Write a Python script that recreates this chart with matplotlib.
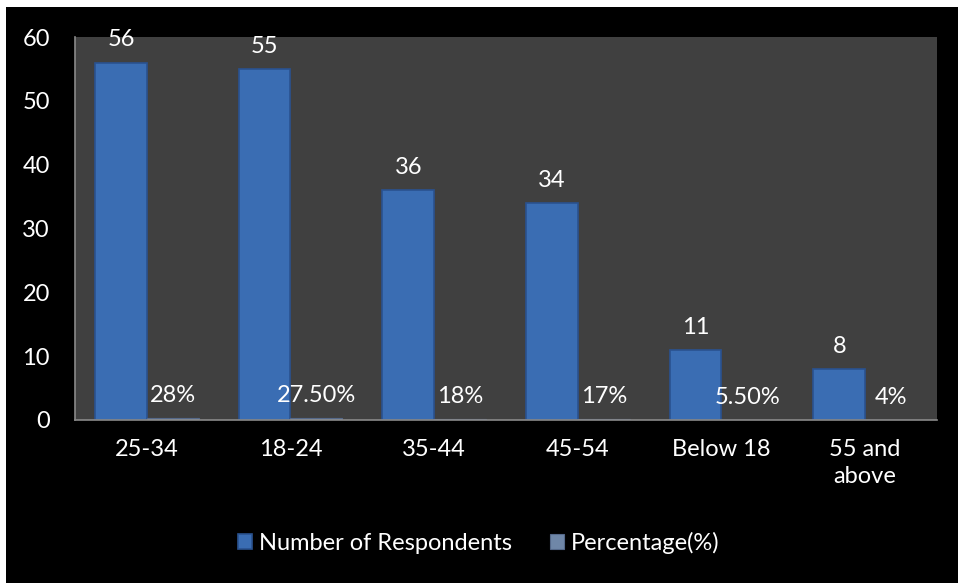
import numpy as np
import matplotlib.pyplot as plt
from matplotlib.patches import Rectangle

# age groups and survey counts
categories = ['25-34', '18-24', '35-44', '45-54', 'Below 18', '55 and\nabove']
respondents = [56, 55, 36, 34, 11, 8]
percentage = [0.28, 0.275, 0.18, 0.17, 0.055, 0.04]
pct_labels = ['28%', '27.50%', '18%', '17%', '5.50%', '4%']

plt.rcParams['font.family'] = ['Lato', 'DejaVu Sans']
fs = 17

fig = plt.figure(figsize=(9.58, 5.83), dpi=100, facecolor='black')
# thin white strips along the top and left edges
fig.patches.append(Rectangle((0, 1 - 7 / 583), 1, 7 / 583, transform=fig.transFigure,
                             facecolor='white', edgecolor='none'))
fig.patches.append(Rectangle((0, 0), 6 / 958, 1, transform=fig.transFigure,
                             facecolor='white', edgecolor='none'))

ax = fig.add_axes([0.0783, 0.2796, 0.8997, 0.6569])
ax.set_facecolor('#404040')

x = np.arange(len(categories))
w = 0.36
b1 = ax.bar(x - w / 2, respondents, w, color='#3a6db3', edgecolor='#2a5290',
            linewidth=1.2, label='Number of Respondents')
b2 = ax.bar(x + w / 2, percentage, w, color='#6f87a8', edgecolor='#55698a',
            linewidth=0.8, label='Percentage(%)')

for rect, v in zip(b1, respondents):
    ax.text(rect.get_x() + rect.get_width() / 2, v + 1.9, str(v),
            ha='center', va='bottom', color='white', fontsize=fs, clip_on=False)
for rect, v, lab in zip(b2, percentage, pct_labels):
    ax.text(rect.get_x() + rect.get_width() / 2, v + 1.9, lab,
            ha='center', va='bottom', color='white', fontsize=fs)

ax.set_xlim(-0.5, len(categories) - 0.5)
ax.set_ylim(0, 60)
ax.set_yticks(range(0, 61, 10))
ax.set_xticks(x)
ax.set_xticklabels(categories, linespacing=1.3)
ax.tick_params(colors='white', labelsize=fs, length=0)
ax.tick_params(axis='x', pad=14)
ax.tick_params(axis='y', pad=18)
for s in ['top', 'right']:
    ax.spines[s].set_visible(False)
for s in ['left', 'bottom']:
    ax.spines[s].set_color('#8a8a8a')
    ax.spines[s].set_linewidth(1.2)

leg = fig.legend(loc='center', bbox_to_anchor=(0.5, 0.069), ncol=2,
                 frameon=False, fontsize=fs, handlelength=0.6,
                 handleheight=0.6, handletextpad=0.3, columnspacing=1.6)
for t in leg.get_texts():
    t.set_color('white')

fig.savefig('out.png', dpi=100, facecolor='black')
